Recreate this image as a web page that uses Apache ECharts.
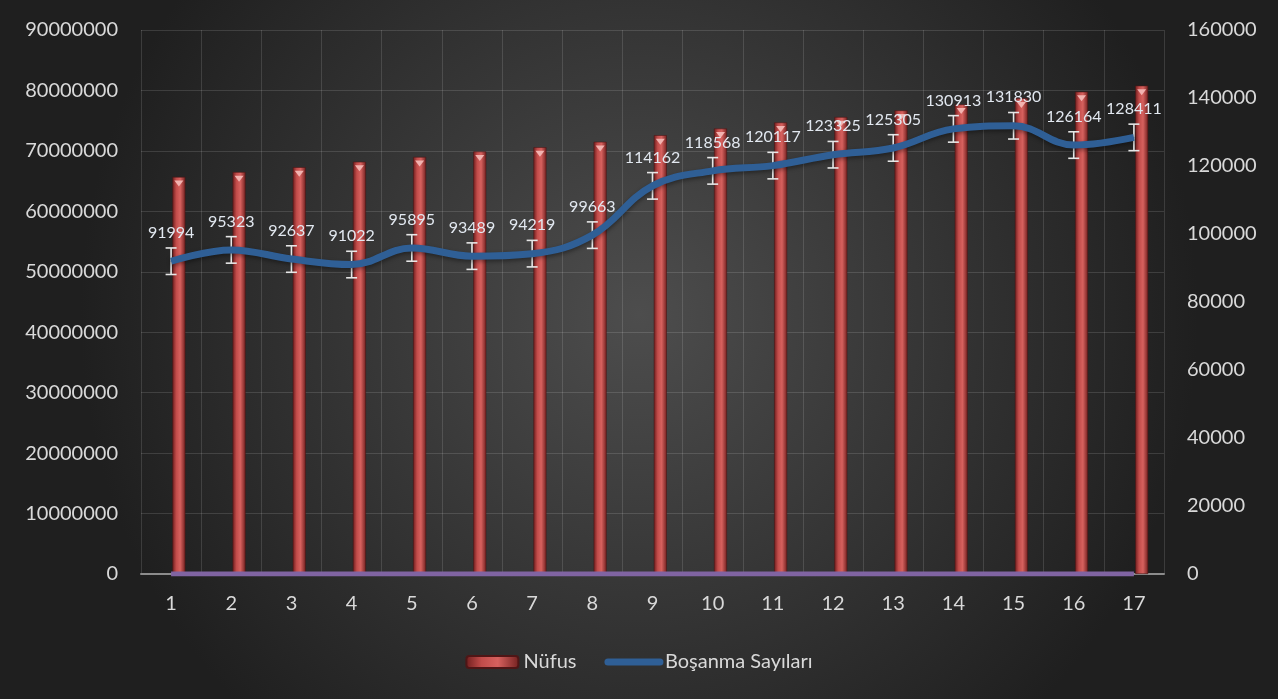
<!DOCTYPE html>
<html>
<head>
<meta charset="utf-8">
<script src="https://cdn.jsdelivr.net/npm/echarts@6/dist/echarts.min.js"></script>
<style>
html, body { margin: 0; padding: 0; background: #262626; }
#main { width: 1278px; height: 699px; }
</style>
</head>
<body>
<div id="main"></div>
<script>
var categories = ['1', '2', '3', '4', '5', '6', '7', '8', '9', '10', '11', '12', '13', '14', '15', '16', '17'];
// Nüfus (sol eksen)
var nufus = [65700000, 66500000, 67300000, 68200000, 69000000, 69900000, 70600000, 71500000, 72600000,
    73700000, 74700000, 75600000, 76700000, 77700000, 78700000, 79800000, 80800000];
// Boşanma sayıları (sağ eksen)
var bosanma = [91994, 95323, 92637, 91022, 95895, 93489, 94219, 99663, 114162,
    118568, 120117, 123325, 125305, 130913, 131830, 126164, 128411];
// alttaki mor seri (sıfırda)
var altSeri = [0, 0, 0, 0, 0, 0, 0, 0, 0, 0, 0, 0, 0, 0, 0, 0, 0];
var hataPayi = 3900;

var leftTicks = [0, 90000000, 10000000];
var rightTicks = [0, 160000, 20000];

var hataData = [];
for (var i = 0; i < bosanma.length; i++) {
    hataData.push([i, bosanma[i] - hataPayi, bosanma[i] + hataPayi]);
}

var textColor = '#d9d9d9';
var gridColor = 'rgba(255,255,255,0.13)';
var fontName = 'Lato';

var barColor = {
    type: 'linear', x: 0, y: 0, x2: 1, y2: 0,
    colorStops: [
        { offset: 0, color: '#6e1d1d' },
        { offset: 0.3, color: '#c24c4a' },
        { offset: 0.6, color: '#d6615e' },
        { offset: 1, color: '#72201f' }
    ]
};

function plain(v) { return String(v); }

var myChart = echarts.init(document.getElementById('main'));
var option = {
    backgroundColor: {
        type: 'radial', x: 0.5, y: 0.45, r: 0.8,
        colorStops: [
            { offset: 0, color: '#4d4d4d' },
            { offset: 1, color: '#1f1f1f' }
        ]
    },
    animation: false,
    textStyle: { fontFamily: fontName },
    grid: { left: 141, right: 114, top: 30, bottom: 125 },
    legend: {
        top: 647,
        left: 'center',
        itemWidth: 52,
        itemHeight: 12,
        itemGap: 28,
        textStyle: { color: textColor, fontSize: 20, fontFamily: fontName },
        data: [
            { name: 'Nüfus' },
            { name: 'Boşanma Sayıları', itemStyle: { opacity: 0 }, lineStyle: { width: 7, cap: 'round' } }
        ]
    },
    xAxis: {
        type: 'category',
        data: categories,
        boundaryGap: true,
        axisLine: { lineStyle: { color: '#8c8c8c', width: 2 } },
        axisTick: { show: false },
        axisLabel: { color: textColor, fontSize: 20, margin: 20 },
        splitLine: { show: true, interval: 0, lineStyle: { color: gridColor } }
    },
    yAxis: [
        {
            type: 'value',
            min: leftTicks[0], max: leftTicks[1], interval: leftTicks[2],
            axisLine: { show: false },
            axisTick: { show: false },
            axisLabel: { color: textColor, fontSize: 20, margin: 23, formatter: plain },
            splitLine: { lineStyle: { color: gridColor } }
        },
        {
            type: 'value',
            min: rightTicks[0], max: rightTicks[1], interval: rightTicks[2],
            axisLine: { show: false },
            axisTick: { show: false },
            axisLabel: { color: textColor, fontSize: 20, margin: 23, formatter: plain },
            splitLine: { show: false }
        }
    ],
    series: [
        {
            type: 'bar',
            data: altSeri,
            barWidth: 13,
            barGap: '20%',
            itemStyle: { color: 'transparent' },
            silent: true
        },
        {
            name: 'Nüfus',
            type: 'bar',
            data: nufus,
            barWidth: 13,
            barGap: '20%',
            itemStyle: { color: barColor, borderColor: '#4e1616', borderWidth: 0.6 },
            z: 2
        },
        {
            type: 'pictorialBar',
            data: nufus,
            barWidth: 13,
            symbol: 'triangle',
            symbolRotate: 180,
            symbolSize: [9, 6],
            symbolPosition: 'end',
            symbolOffset: [7.8, '60%'],
            itemStyle: { color: '#f2b3b0' },
            z: 3,
            silent: true
        },
        {
            type: 'line',
            data: altSeri,
            symbol: 'none',
            lineStyle: { color: '#8064a2', width: 5 },
            z: 4,
            silent: true
        },
        {
            type: 'custom',
            yAxisIndex: 1,
            data: hataData,
            z: 5,
            renderItem: function (params, api) {
                var x = api.value(0);
                var top = api.coord([x, api.value(2)]);
                var bot = api.coord([x, api.value(1)]);
                var hw = 5.5;
                var st = { stroke: '#e6e6e6', lineWidth: 1.6 };
                return {
                    type: 'group',
                    children: [
                        { type: 'line', shape: { x1: top[0], y1: top[1], x2: bot[0], y2: bot[1] }, style: st },
                        { type: 'line', shape: { x1: top[0] - hw, y1: top[1], x2: top[0] + hw, y2: top[1] }, style: st },
                        { type: 'line', shape: { x1: bot[0] - hw, y1: bot[1], x2: bot[0] + hw, y2: bot[1] }, style: st }
                    ]
                };
            }
        },
        {
            name: 'Boşanma Sayıları',
            type: 'line',
            yAxisIndex: 1,
            data: bosanma,
            smooth: 0.4,
            symbol: 'circle',
            symbolSize: 1,
            itemStyle: { color: '#2f5f96' },
            lineStyle: {
                color: '#2f5f96', width: 7,
                shadowColor: 'rgba(0,0,0,0.4)', shadowBlur: 4, shadowOffsetY: 2
            },
            label: {
                show: true,
                position: 'top',
                distance: 20,
                color: '#e2e8f0',
                fontSize: 16,
                fontFamily: fontName
            },
            z: 6
        }
    ]
};
myChart.setOption(option);
</script>
</body>
</html>
